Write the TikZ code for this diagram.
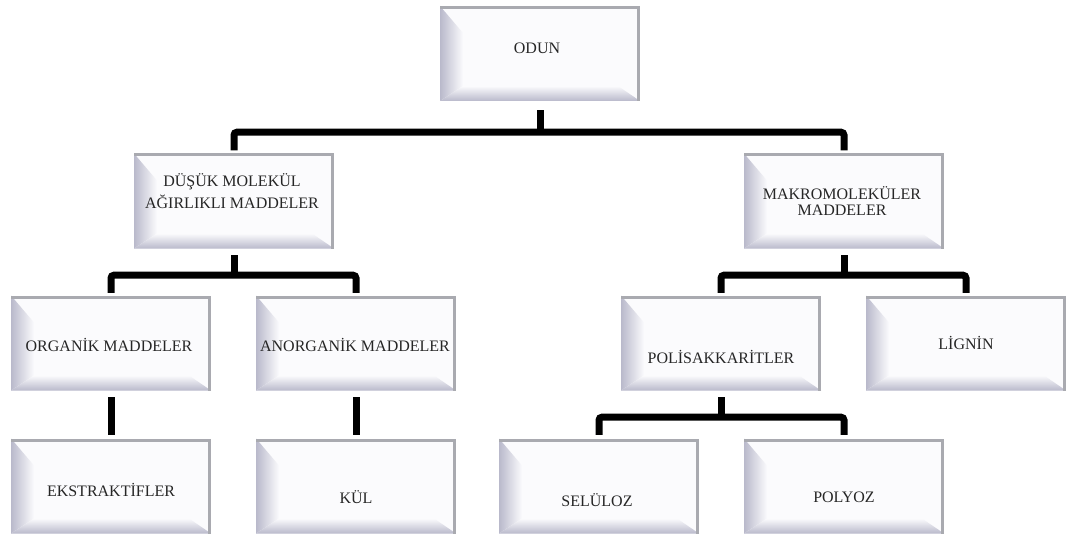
\documentclass[tikz,border=0pt]{standalone}
\usepackage{fontspec}
\setmainfont{Liberation Serif}
\usetikzlibrary{calc}
\definecolor{face}{HTML}{FBFBFD}
\definecolor{bev}{HTML}{B9B9CB}
\definecolor{edgegray}{HTML}{A9AAB0}
\tikzset{
  bbox/.style={draw=none, fill=face, minimum width=200pt, minimum height=95pt, inner sep=0pt,
    path picture={
      \path (path picture bounding box.south west) coordinate (bbsw)
            (path picture bounding box.north east) coordinate (bbne)
            (path picture bounding box.north west) coordinate (bbnw)
            (path picture bounding box.south east) coordinate (bbse);
      \shade[left color=bev, right color=face] (bbsw) -- (bbnw) -- ($(bbnw)+(23,-27)$) -- ($(bbsw)+(23,15)$) -- cycle;
      \shade[bottom color=bev, top color=face] (bbsw) -- ($(bbsw)+(23,15)$) -- ($(bbse)+(-22,15)$) -- (bbse) -- cycle;
      \fill[edgegray] (bbnw) rectangle ($(bbne)+(0,-3)$);
      \fill[edgegray] ($(bbse)+(-3,0)$) rectangle (bbne);
    }},
  lbl/.style={font=\fontsize{16}{18}\selectfont, text=black!85, align=center, inner sep=0pt},
  conn/.style={line width=7pt, rounded corners=3pt}
}
\begin{document}
\begin{tikzpicture}[x=1pt,y=1pt]
\useasboundingbox (0,0) rectangle (1067,539);
% boxes
\node[bbox] (odun) at (540,485.5) {};
\node[bbox] (dusuk) at (234,338) {};
\node[bbox] (makro) at (844,338) {};
\node[bbox] (organik) at (111,196) {};
\node[bbox] (anorganik) at (356,196) {};
\node[bbox] (polis) at (721,196) {};
\node[bbox] (lignin) at (966,196) {};
\node[bbox] (ekstr) at (111,53) {};
\node[bbox] (kul) at (356,53) {};
\node[bbox] (seluloz) at (599,53) {};
\node[bbox] (polyoz) at (844,53) {};
% labels
\node[lbl] (odunT) at ($(odun.center)+(-3,5.5)$) {ODUN};
\node[lbl, font=\fontsize{16}{22}\selectfont] (dusukT) at ($(dusuk.center)+(-2,10)$) {DÜŞÜK MOLEKÜL\\AĞIRLIKLI MADDELER};
\node[lbl, font=\fontsize{16}{16}\selectfont] (makroT) at ($(makro.center)+(-2,0)$) {MAKROMOLEKÜLER\\MADDELER};
\node[lbl] (organikT) at ($(organik.center)+(-2,-2)$) {ORGANİK MADDELER};
\node[lbl] (anorganikT) at ($(anorganik.center)+(-1,-2)$) {ANORGANİK MADDELER};
\node[lbl] (polisT) at ($(polis.center)+(0,-14)$) {POLİSAKKARİTLER};
\node[lbl] (ligninT) at ($(lignin.center)+(0,0)$) {LİGNİN};
\node[lbl] (ekstrT) at ($(ekstr.center)+(0,-4)$) {EKSTRAKTİFLER};
\node[lbl] (kulT) at ($(kul.center)+(0,-11)$) {KÜL};
\node[lbl] (selulozT) at ($(seluloz.center)+(-2,-14)$) {SELÜLOZ};
\node[lbl] (polyozT) at ($(polyoz.center)+(0,-11)$) {POLYOZ};
% connectors
\draw[conn] ([yshift=-9pt]odun.south) -- ([yshift=-31pt]odun.south);
\draw[conn] ([yshift=3pt]dusuk.north) |- ([yshift=-31pt]odun.south) -| ([yshift=3pt]makro.north);
\draw[conn] ([yshift=-6.5pt]dusuk.south) -- ([yshift=-26.5pt]dusuk.south);
\draw[conn] ([yshift=2.5pt]organik.north) |- ([yshift=-26.5pt]dusuk.south) -| ([yshift=2.5pt]anorganik.north);
\draw[conn] ([yshift=-6.5pt]makro.south) -- ([yshift=-26.5pt]makro.south);
\draw[conn] ([yshift=2.5pt]polis.north) |- ([yshift=-26.5pt]makro.south) -| ([yshift=2.5pt]lignin.north);
\draw[conn] ([yshift=-6.5pt]polis.south) -- ([yshift=-26.5pt]polis.south);
\draw[conn] ([yshift=3.5pt]seluloz.north) |- ([yshift=-26.5pt]polis.south) -| ([yshift=3.5pt]polyoz.north);
\draw[conn] ([yshift=-6.5pt]organik.south) -- ([yshift=3.5pt]ekstr.north);
\draw[conn] ([yshift=-6.5pt]anorganik.south) -- ([yshift=3.5pt]kul.north);
\end{tikzpicture}
\end{document}
